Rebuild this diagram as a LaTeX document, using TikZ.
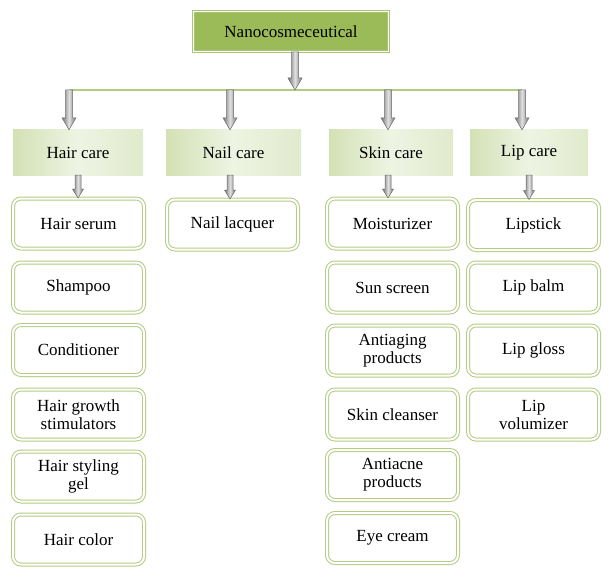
\documentclass[tikz,border=0pt]{standalone}
\usepackage{fontspec}
\setmainfont{Liberation Serif}
\usetikzlibrary{calc}
\definecolor{gmain}{HTML}{9BBB59}
\definecolor{gedge}{HTML}{A9C574}
\definecolor{gline}{HTML}{B3CB82}
\definecolor{gcatA}{HTML}{D3E1B5}
\definecolor{gcatB}{HTML}{EEF4E3}
\definecolor{aedge}{HTML}{6A6A6A}
\tikzset{
  garrow/.style n args={3}{draw=aedge, line width=0.5pt,
    left color=black!55, right color=black!55, middle color=black!12,
    to path={let \p1=(\tikztostart), \p2=(\tikztotarget) in
      (\x1-#1,\y1) -- (\x1-#1,\y2+#3) -- (\x1-#2,\y2+#3) -- (\x1,\y2)
      -- (\x1+#2,\y2+#3) -- (\x1+#1,\y2+#3) -- (\x1+#1,\y1) -- cycle}},
  bigarrow/.style={garrow={3.5pt}{7pt}{12pt}},
  smallarrow/.style={garrow={3pt}{5.5pt}{9pt}},
  topbox/.style={rectangle, fill=gmain, draw=gedge, double=white,
    double distance=1.2pt, line width=1pt, minimum width=195pt, minimum height=40pt},
  catbox/.style={rectangle, left color=gcatA, right color=gcatA!70!white,
    middle color=gcatB, minimum height=45pt},
  itembox/.style={rectangle, rounded corners=8pt, draw=gline, double=white,
    double distance=2pt, line width=1pt, fill=white,
    minimum width=131pt, minimum height=50pt},
  hline/.style={draw=gline, line width=1.2pt}
}
\begin{document}
\begin{tikzpicture}[x=1pt,y=-1pt,
  every node/.style={font=\fontsize{17}{18}\selectfont, align=center, inner sep=0pt}]
\useasboundingbox (0,0) rectangle (612,580);

% top
\node[topbox] (top) at (291,31.5) {Nanocosmeceutical};

% junctions on horizontal line
\coordinate (jT) at (295,90);
\coordinate (jH) at (69,90);
\coordinate (jN) at (230,90);
\coordinate (jS) at (388,90);
\coordinate (jL) at (522,90);
\draw[hline] (jH) -- (jL);

% categories
\node[catbox, minimum width=130pt] (hair) at (78,152.5) {Hair care};
\node[catbox, minimum width=135pt] (nail) at (233.5,152.5) {Nail care};
\node[catbox, minimum width=124pt] (skin) at (391,152.5) {Skin care};
\node[catbox, minimum width=118pt] (lip) at (529,152.5) {Lip care};

% items: hair
\node[itembox] (h1) at (78.5,223.5) {Hair serum};
\node[itembox] (h2) at (78.5,287.5) {Shampoo};
\node[itembox] (h3) at (78.5,350) {Conditioner};
\node[itembox] (h4) at (78.5,414.5) {Hair growth\\stimulators};
\node[itembox] (h5) at (78.5,476.5) {Hair styling\\gel};
\node[itembox] (h6) at (78.5,539.5) {Hair color};
% nail
\node[itembox] (n1) at (232.5,224.5) {Nail lacquer};
% skin
\node[itembox] (s1) at (392.5,223.5) {Moisturizer};
\node[itembox] (s2) at (392.5,287.5) {Sun screen};
\node[itembox] (s3) at (392.5,350.5) {Antiaging\\products};
\node[itembox] (s4) at (392.5,414.5) {Skin cleanser};
\node[itembox] (s5) at (392.5,475) {Antiacne\\products};
\node[itembox] (s6) at (392.5,538) {Eye cream};
% lip
\node[itembox] (l1) at (533.5,225) {Lipstick};
\node[itembox] (l2) at (533.5,287.5) {Lip balm};
\node[itembox] (l3) at (533.5,350.5) {Lip gloss};
\node[itembox] (l4) at (533.5,414.5) {Lip\\volumizer};

% arrows
\draw[bigarrow] (top.south -| jT) to (jT);
\draw[bigarrow] (jH) to (hair.north);
\draw[bigarrow] (jN) to (nail.north);
\draw[bigarrow] (jS) to (skin.north);
\draw[bigarrow] (jL) to (lip.north);
\draw[smallarrow] (hair.south) to (h1.north);
\draw[smallarrow] (nail.south -| jN) to (n1.north);
\draw[smallarrow] (skin.south -| jS) to (s1.north);
\draw[smallarrow] (lip.south) to (l1.north);
\end{tikzpicture}
\end{document}
